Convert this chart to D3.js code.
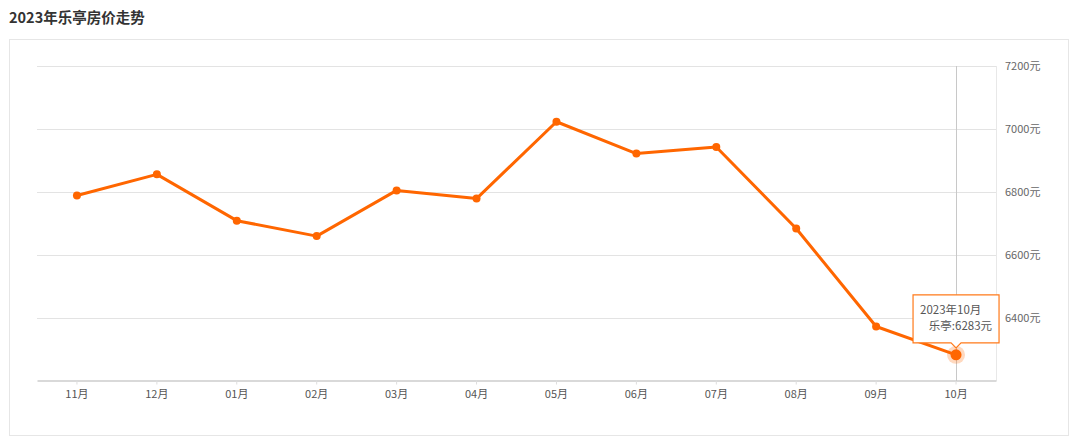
<!DOCTYPE html>
<html><head><meta charset="utf-8">
<script src="https://cdn.jsdelivr.net/npm/d3@7/dist/d3.min.js"></script>
<style>
html,body{margin:0;padding:0;background:#fff;}
svg{display:block;font-family:"Noto Sans CJK SC","Noto Sans",sans-serif;}
</style></head><body>
<svg id="c" width="1080" height="442"></svg>
<script>
const title = "2023年乐亭房价走势";
const months = ["11月","12月","01月","02月","03月","04月","05月","06月","07月","08月","09月","10月"];
const prices = [6789, 6856, 6709, 6660, 6805, 6779, 7023, 6922, 6943, 6684, 6373, 6283];
const yTicks = [6400, 6600, 6800, 7000, 7200];
const seriesName = "乐亭";
const tipTitle = "2023年10月";

const svg = d3.select("#c");
const L = 37, R = 996, T = 66, B = 381;
const orange = "#ff6600";

svg.append("text").attr("x", 9).attr("y", 23).attr("font-size", 14.5).attr("font-weight", "bold")
  .attr("fill", "#333").text(title);
svg.append("rect").attr("x", 9.5).attr("y", 39.5).attr("width", 1059).attr("height", 396)
  .attr("fill", "none").attr("stroke", "#e6e6e6");

const x = d3.scaleBand().domain(months).range([L, R]);
const y = d3.scaleLinear().domain([6200, 7200]).range([B, T]);

// grid
svg.append("g").selectAll("line").data(yTicks).join("line")
  .attr("x1", L).attr("x2", R).attr("y1", d => Math.round(y(d)) + 0.5).attr("y2", d => Math.round(y(d)) + 0.5)
  .attr("stroke", "#e3e3e3");
svg.append("line").attr("x1", R + 0.5).attr("x2", R + 0.5).attr("y1", T).attr("y2", B).attr("stroke", "#e8e8e8");

// y labels
svg.append("g").selectAll("text").data(yTicks).join("text")
  .attr("x", 1005).attr("y", d => y(d)).attr("dy", "0.35em").attr("font-size", 11).attr("fill", "#666")
  .text(d => d + "元");

// x axis
const xa = svg.append("g").attr("transform", `translate(0,${Math.round(B) - 0.5})`)
  .call(d3.axisBottom(x).tickSizeInner(4).tickSizeOuter(0).tickPadding(6));
xa.select(".domain").attr("stroke", "#d9d9d9").attr("stroke-width", 2);
xa.selectAll(".tick line").attr("stroke", "#ddd");
xa.selectAll(".tick text").attr("font-size", 11).attr("fill", "#555")
  .attr("font-family", '"Noto Sans CJK SC",sans-serif');

const cx = d => x(d) + x.bandwidth() / 2;
const last = months.length - 1;

// crosshair
svg.append("line").attr("x1", Math.round(cx(months[last])) + 0.5).attr("x2", Math.round(cx(months[last])) + 0.5)
  .attr("y1", T).attr("y2", B).attr("stroke", "#c8c8c8");

// line
const data = months.map((m, i) => ({m, v: prices[i]}));
svg.append("path").datum(data)
  .attr("d", d3.line().x(d => cx(d.m)).y(d => y(d.v)))
  .attr("fill", "none").attr("stroke", orange).attr("stroke-width", 3).attr("stroke-linejoin", "round");
svg.append("g").selectAll("circle").data(data.slice(0, last)).join("circle")
  .attr("cx", d => cx(d.m)).attr("cy", d => y(d.v)).attr("r", 4).attr("fill", orange);

// highlighted point
const hp = data[last];
svg.append("circle").attr("cx", cx(hp.m)).attr("cy", y(hp.v)).attr("r", 9).attr("fill", orange).attr("opacity", 0.25);
svg.append("circle").attr("cx", cx(hp.m)).attr("cy", y(hp.v)).attr("r", 5.5).attr("fill", orange);

// tooltip
const tx = cx(hp.m), ty = y(hp.v);
const bx = tx - 43, bw = 86, by = ty - 60, bh = 48;
const tip = svg.append("g");
tip.append("path")
  .attr("d", `M${bx},${by} H${bx + bw} V${by + bh} H${tx + 5} L${tx},${by + bh + 5} L${tx - 5},${by + bh} H${bx} Z`)
  .attr("fill", "#fff").attr("stroke", "#ff7a1a").attr("stroke-width", 1.2);
tip.append("text").attr("x", bx + 7).attr("y", by + 19).attr("font-size", 11.5).attr("fill", "#555").text(tipTitle);
tip.append("text").attr("x", bx + bw - 7).attr("y", by + 35).attr("font-size", 11.5).attr("fill", "#555")
  .attr("text-anchor", "end").text(`${seriesName}:${hp.v}元`);
</script>
</body></html>
